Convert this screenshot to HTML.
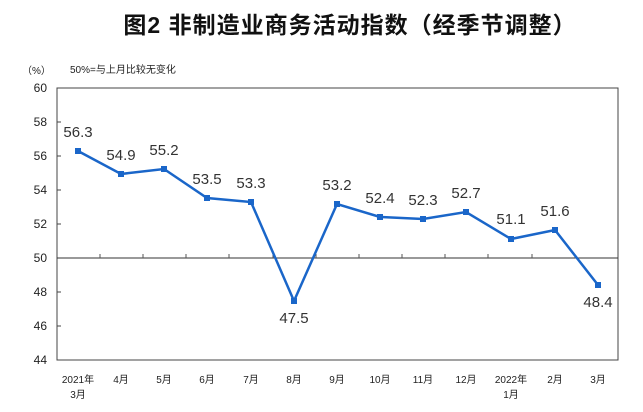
<!DOCTYPE html>
<html><head><meta charset="utf-8"><style>body{margin:0;background:#fff}svg{display:block}</style></head><body>
<svg width="643" height="412" xmlns="http://www.w3.org/2000/svg" font-family="Liberation Sans, Noto Sans CJK SC, sans-serif">
<text x="350" y="33" text-anchor="middle" font-size="23" font-weight="bold" letter-spacing="1" fill="#111">图2  非制造业商务活动指数（经季节调整）</text>
<text x="22" y="74" font-size="10" fill="#222">（%）</text>
<text x="70" y="73" font-size="10" fill="#222">50%=与上月比较无变化</text>
<g font-size="12" fill="#222" text-anchor="end">
<text x="47" y="92">60</text><text x="47" y="126">58</text><text x="47" y="160">56</text><text x="47" y="194">54</text><text x="47" y="228">52</text><text x="47" y="262">50</text><text x="47" y="296">48</text><text x="47" y="330">46</text><text x="47" y="364">44</text>
</g>
<rect x="57" y="88" width="561" height="272" fill="none" stroke="#444" stroke-width="1"/>
<g stroke="#444"><line x1="57" y1="122" x2="61" y2="122"/><line x1="57" y1="156" x2="61" y2="156"/><line x1="57" y1="190" x2="61" y2="190"/><line x1="57" y1="224" x2="61" y2="224"/><line x1="57" y1="292" x2="61" y2="292"/><line x1="57" y1="326" x2="61" y2="326"/></g>
<line x1="57" y1="258" x2="618" y2="258" stroke="#333" stroke-width="1"/>
<g stroke="#555"><line x1="100" y1="254" x2="100" y2="258"/><line x1="143" y1="254" x2="143" y2="258"/><line x1="186" y1="254" x2="186" y2="258"/><line x1="229" y1="254" x2="229" y2="258"/><line x1="273" y1="254" x2="273" y2="258"/><line x1="316" y1="254" x2="316" y2="258"/><line x1="359" y1="254" x2="359" y2="258"/><line x1="402" y1="254" x2="402" y2="258"/><line x1="445" y1="254" x2="445" y2="258"/><line x1="488" y1="254" x2="488" y2="258"/><line x1="532" y1="254" x2="532" y2="258"/><line x1="575" y1="254" x2="575" y2="258"/></g>
<polyline fill="none" stroke="#1a66c9" stroke-width="2.5" points="78,151 121,174 164,169 207,198 251,202 294,301 337,204 380,217 423,219 466,212 511,239 555,230 598,285"/>
<g fill="#1a66c9">
<rect x="75" y="148" width="6" height="6"/><rect x="118" y="171" width="6" height="6"/><rect x="161" y="166" width="6" height="6"/><rect x="204" y="195" width="6" height="6"/><rect x="248" y="199" width="6" height="6"/><rect x="291" y="298" width="6" height="6"/><rect x="334" y="201" width="6" height="6"/><rect x="377" y="214" width="6" height="6"/><rect x="420" y="216" width="6" height="6"/><rect x="463" y="209" width="6" height="6"/><rect x="508" y="236" width="6" height="6"/><rect x="552" y="227" width="6" height="6"/><rect x="595" y="282" width="6" height="6"/>
</g>
<g font-size="15" fill="#333" text-anchor="middle">
<text x="78" y="137">56.3</text><text x="121" y="160">54.9</text><text x="164" y="155">55.2</text><text x="207" y="184">53.5</text><text x="251" y="188">53.3</text><text x="294" y="323">47.5</text><text x="337" y="190">53.2</text><text x="380" y="203">52.4</text><text x="423" y="205">52.3</text><text x="466" y="198">52.7</text><text x="511" y="224">51.1</text><text x="555" y="216">51.6</text><text x="598" y="307">48.4</text>
</g>
<g font-size="10" fill="#222" text-anchor="middle">
<text x="78" y="383">2021年</text><text x="78" y="398">3月</text><text x="121" y="383">4月</text><text x="164" y="383">5月</text><text x="207" y="383">6月</text><text x="251" y="383">7月</text><text x="294" y="383">8月</text><text x="337" y="383">9月</text><text x="380" y="383">10月</text><text x="423" y="383">11月</text><text x="466" y="383">12月</text><text x="511" y="383">2022年</text><text x="511" y="398">1月</text><text x="555" y="383">2月</text><text x="598" y="383">3月</text>
</g>
</svg>
</body></html>
